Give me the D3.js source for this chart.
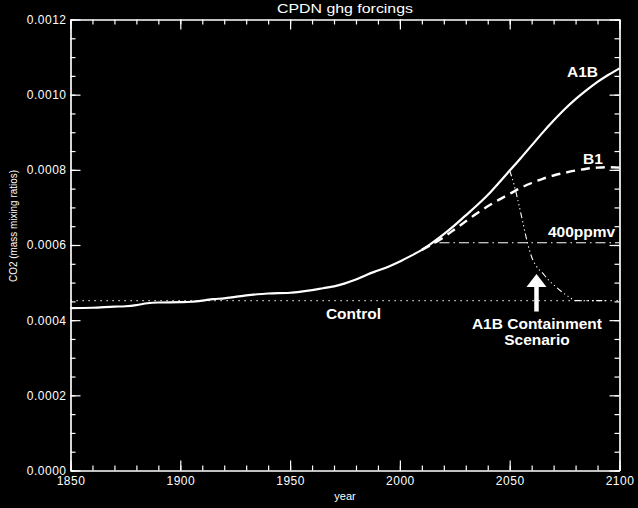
<!DOCTYPE html>
<html>
<head>
<meta charset="utf-8">
<script src="https://cdn.jsdelivr.net/npm/d3@7"></script>
<style>
  html, body { margin: 0; padding: 0; background: #000; }
  svg { display: block; background: #000; }
  text { fill: #fff; }
</style>
</head>
<body>
<script>
// ---- data ----
const histYears = [1850,1860,1870,1875,1880,1885,1890,1900,1905,1910,1915,1920,1925,1930,1935,1940,1950,1955,1960,1965,1970,1975,1980,1985,1990,1995,2000,2005,2010];
const histCO2   = [0.000432,0.000433,0.000436,0.000437,0.000440,0.000445,0.000447,0.000448,0.000449,0.000452,0.000456,0.000458,0.000462,0.000466,0.000469,0.000471,0.000473,0.000476,0.000480,0.000485,0.000490,0.000498,0.000508,0.000521,0.000532,0.000543,0.000556,0.000571,0.000587];

const scenYears = [2010,2015,2020,2025,2030,2035,2040,2045,2050,2055,2060,2065,2070,2075,2080,2085,2090,2095,2100];
const a1bCO2    = [0.000587,0.000607,0.000629,0.000653,0.000679,0.000705,0.000733,0.000765,0.000798,0.000831,0.000865,0.000899,0.000931,0.000961,0.000988,0.001012,0.001034,0.001053,0.001070];
const b1CO2     = [0.000587,0.000603,0.000621,0.000642,0.000663,0.000684,0.000703,0.000720,0.000736,0.000752,0.000765,0.000776,0.000785,0.000792,0.000798,0.000803,0.000806,0.000807,0.000806];

const stabYears = [2010,2013,2016,2100];
const stabCO2   = [0.000587,0.000598,0.000606,0.000606];

const contYears = [2050,2052,2054,2056,2058,2060,2062,2065,2068,2071,2074,2077,2080,2094];
const contCO2   = [0.000798,0.000760,0.000712,0.000660,0.000608,0.000568,0.000545,0.000525,0.000505,0.000489,0.000474,0.000462,0.000452,0.000452];

const ctrlYears = [1850,2100];
const ctrlCO2   = [0.000452,0.000452];

const xTicks = [1850,1900,1950,2000,2050,2100];
const yTicks = [0.0000,0.0002,0.0004,0.0006,0.0008,0.0010,0.0012];

// ---- layout ----
const W = 638, H = 508;
const pLeft = 70.5, pRight = 619.5, pTop = 19.5, pBottom = 470.5;

const svg = d3.select("body").append("svg").attr("width", W).attr("height", H);

const x = d3.scaleLinear().domain([1850, 2100]).range([pLeft, pRight]);
const y = d3.scaleLinear().domain([0, 0.0012]).range([pBottom, pTop]);

const font = "'Liberation Sans', Arial, sans-serif";

const xMinor = d3.range(1850, 2101, 10);
const yMinor = d3.range(0, 24.5, 1).map(i => i * 0.00005);

function styleAxis(g) {
  g.selectAll("path").attr("stroke", "#fff").attr("stroke-width", 1.2);
  g.selectAll("line").attr("stroke", "#fff").attr("stroke-width", 1.2);
  g.selectAll("text").attr("fill", "#fff").attr("font-family", font).attr("font-size", 12).attr("letter-spacing", 0.5);
}

// bottom
svg.append("g").attr("transform", `translate(0,${pBottom})`)
  .call(d3.axisBottom(x).tickValues(xMinor).tickSize(-5).tickSizeOuter(0).tickFormat(""))
  .call(styleAxis);
svg.append("g").attr("transform", `translate(0,${pBottom})`)
  .call(d3.axisBottom(x).tickValues(xTicks).tickSize(-10).tickSizeOuter(0).tickPadding(6).tickFormat(d3.format("d")))
  .call(styleAxis);
// top
svg.append("g").attr("transform", `translate(0,${pTop})`)
  .call(d3.axisTop(x).tickValues(xMinor).tickSize(-5).tickSizeOuter(0).tickFormat(""))
  .call(styleAxis);
svg.append("g").attr("transform", `translate(0,${pTop})`)
  .call(d3.axisTop(x).tickValues(xTicks).tickSize(-10).tickSizeOuter(0).tickFormat(""))
  .call(styleAxis);
// left
svg.append("g").attr("transform", `translate(${pLeft},0)`)
  .call(d3.axisLeft(y).tickValues(yMinor).tickSize(-5).tickSizeOuter(0).tickFormat(""))
  .call(styleAxis);
svg.append("g").attr("transform", `translate(${pLeft},0)`)
  .call(d3.axisLeft(y).tickValues(yTicks).tickSize(-10).tickSizeOuter(0).tickPadding(4).tickFormat(d3.format(".4f")))
  .call(styleAxis);
// right
svg.append("g").attr("transform", `translate(${pRight},0)`)
  .call(d3.axisRight(y).tickValues(yMinor).tickSize(-5).tickSizeOuter(0).tickFormat(""))
  .call(styleAxis);
svg.append("g").attr("transform", `translate(${pRight},0)`)
  .call(d3.axisRight(y).tickValues(yTicks).tickSize(-10).tickSizeOuter(0).tickFormat(""))
  .call(styleAxis);

// titles
svg.append("text").attr("x", 345).attr("y", 13)
  .attr("text-anchor", "middle").attr("font-family", font).attr("font-size", 13)
  .attr("textLength", 136).attr("lengthAdjust", "spacingAndGlyphs")
  .text("CPDN ghg forcings");
svg.append("text").attr("x", 345).attr("y", 500)
  .attr("text-anchor", "middle").attr("font-family", font).attr("font-size", 11)
  .text("year");
svg.append("text").attr("transform", `translate(17,226) rotate(-90)`)
  .attr("text-anchor", "middle").attr("font-family", font).attr("font-size", 10.5)
  .attr("textLength", 112).attr("lengthAdjust", "spacingAndGlyphs")
  .text("CO2 (mass mixing ratios)");

// lines
const line = (xs, ys) => d3.line().x((d, i) => x(xs[i])).y((d, i) => y(ys[i])).curve(d3.curveMonotoneX)(ys);

const plot = svg.append("g");
plot.append("path").attr("d", line(ctrlYears, ctrlCO2))
  .attr("fill", "none").attr("stroke", "#fff").attr("stroke-width", 1.2).attr("stroke-dasharray", "1.2,4.8");
plot.append("path").attr("d", line(histYears, histCO2))
  .attr("fill", "none").attr("stroke", "#fff").attr("stroke-width", 2.2);
plot.append("path").attr("d", line(scenYears, a1bCO2))
  .attr("fill", "none").attr("stroke", "#fff").attr("stroke-width", 2.2);
plot.append("path").attr("d", line(scenYears, b1CO2))
  .attr("fill", "none").attr("stroke", "#fff").attr("stroke-width", 2.4).attr("stroke-dasharray", "9,6");
plot.append("path").attr("d", line(stabYears, stabCO2))
  .attr("fill", "none").attr("stroke", "#fff").attr("stroke-width", 1.1).attr("stroke-dasharray", "10,4,1.5,4");
plot.append("path").attr("d", line(contYears, contCO2))
  .attr("fill", "none").attr("stroke", "#fff").attr("stroke-width", 1.1).attr("stroke-dasharray", "6,3,1.2,3,1.2,3,1.2,3");

// annotations
const lab = (tx, ty, s, anchor) => svg.append("text").attr("x", tx).attr("y", ty)
  .attr("text-anchor", anchor || "start").attr("font-family", font).attr("font-weight", "bold")
  .attr("font-size", 15.5).text(s);
lab(x(2076.1), 77, "A1B");
lab(x(2083.4), 164, "B1");
lab(x(2067.4), 237, "400ppmv");
lab(x(1966.3), 319, "Control");
lab(x(2062.4), 329, "A1B Containment", "middle");
lab(x(2062.4), 345, "Scenario", "middle");

// arrow pointing at containment curve
const ax = x(2062.2), ayTip = y(0.000523), ayBase = y(0.000423);
svg.append("line").attr("x1", ax).attr("x2", ax).attr("y1", ayBase).attr("y2", ayTip + 10)
  .attr("stroke", "#fff").attr("stroke-width", 4.5);
svg.append("path")
  .attr("d", `M${ax},${ayTip} L${ax - 10},${ayTip + 13} L${ax + 10},${ayTip + 13} Z`)
  .attr("fill", "#fff");
</script>
</body>
</html>
